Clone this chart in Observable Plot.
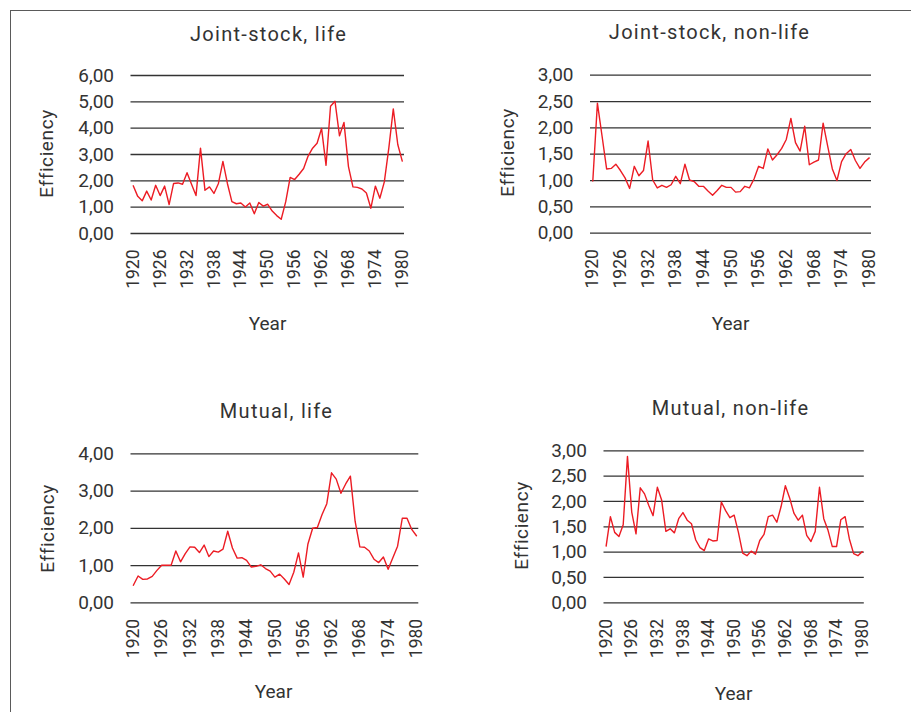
<!DOCTYPE html>
<html><head><meta charset="utf-8">
<script src="https://cdn.jsdelivr.net/npm/d3@7"></script>
<script src="https://cdn.jsdelivr.net/npm/@observablehq/plot@0.6"></script>
<style>
body{margin:0;background:#fff;}
#wrap{position:relative;width:911px;height:712px;overflow:hidden;font-family:Roboto,sans-serif;background:#fff;}
#frame{position:absolute;left:10px;top:10px;width:1000px;height:800px;border-top:1.5px solid #5a5a5a;border-left:1.5px solid #5a5a5a;pointer-events:none;}
.panel{position:absolute;}
</style></head><body><div id="wrap"></div>
<script>
const years = d3.range(1920, 1981);
const yearTicks = [1920, 1926, 1932, 1938, 1944, 1950, 1956, 1962, 1968, 1974, 1980];
const titles = ["Joint-stock, life", "Joint-stock, non-life", "Mutual, life", "Mutual, non-life"];
const jointLife = [1.81,1.41,1.24,1.61,1.27,1.83,1.44,1.80,1.10,1.90,
1.92,1.87,2.31,1.87,1.44,3.24,1.64,1.77,1.52,1.90,
2.74,1.90,1.21,1.13,1.16,1.01,1.16,0.75,1.18,1.04,
1.11,0.85,0.68,0.54,1.20,2.13,2.05,2.25,2.47,2.94,
3.24,3.43,3.99,2.59,4.83,5.02,3.71,4.22,2.54,1.77,
1.75,1.69,1.54,0.96,1.80,1.34,1.96,3.24,4.73,3.38,
2.75];
const jointNonLife = [0.99,2.47,1.85,1.22,1.23,1.31,1.19,1.05,0.85,1.27,
1.09,1.19,1.75,1.01,0.86,0.91,0.87,0.92,1.08,0.94,
1.31,1.01,0.98,0.89,0.89,0.80,0.72,0.81,0.91,0.87,
0.87,0.78,0.79,0.89,0.86,1.03,1.27,1.23,1.60,1.39,
1.49,1.61,1.78,2.18,1.72,1.56,2.03,1.30,1.35,1.39,
2.09,1.65,1.22,1.00,1.36,1.51,1.59,1.38,1.23,1.35,
1.43];
const mutualLife = [0.47,0.72,0.63,0.64,0.71,0.87,1.01,1.01,1.01,1.39,
1.10,1.32,1.50,1.49,1.35,1.55,1.24,1.39,1.36,1.44,
1.92,1.47,1.20,1.21,1.14,0.96,0.98,1.02,0.92,0.85,
0.69,0.77,0.64,0.49,0.82,1.34,0.69,1.58,2.00,2.02,
2.37,2.66,3.49,3.32,2.94,3.19,3.40,2.19,1.50,1.49,
1.39,1.17,1.08,1.23,0.90,1.21,1.52,2.27,2.27,1.97,
1.80];
const mutualNonLife = [1.12,1.70,1.39,1.31,1.54,2.89,1.79,1.36,2.27,2.15,
1.92,1.72,2.28,2.03,1.41,1.46,1.38,1.66,1.78,1.63,
1.56,1.24,1.09,1.03,1.26,1.22,1.23,1.99,1.82,1.68,
1.73,1.39,0.98,0.93,1.02,0.96,1.23,1.35,1.70,1.73,
1.59,1.90,2.31,2.07,1.77,1.63,1.73,1.33,1.21,1.41,
2.28,1.66,1.43,1.11,1.11,1.64,1.70,1.26,0.97,0.93,
1.01];
const yTicks1 = [0, 1, 2, 3, 4, 5, 6];
const yTicks2 = [0, 0.5, 1, 1.5, 2, 2.5, 3];
const yTicks3 = [0, 1, 2, 3, 4];
const yTicks4 = [0, 0.5, 1, 1.5, 2, 2.5, 3];

const fmt = d => d.toFixed(2).replace(".", ",");
const wrap = document.getElementById("wrap");

const panels = [
  {title: titles[0], values: jointLife, ticks: yTicks1, left: 0, top: 0, w: 455, h: 356,
   fx0: 130.5, fx1: 404, fy0: 233, fy1: 75, tx: 268, ty: 34, ex: 46, ey: 153, yx: 267, yy: 323},
  {title: titles[1], values: jointNonLife, ticks: yTicks2, left: 455, top: 0, w: 456, h: 356,
   fx0: 590, fx1: 871, fy0: 232.7, fy1: 74.7, tx: 709, ty: 32, ex: 507, ey: 152, yx: 730, yy: 323},
  {title: titles[2], values: mutualLife, ticks: yTicks3, left: 0, top: 356, w: 455, h: 356,
   fx0: 130.5, fx1: 418.3, fy0: 602.3, fy1: 453.3, tx: 276, ty: 411, ex: 47, ey: 528, yx: 273, yy: 691},
  {title: titles[3], values: mutualNonLife, ticks: yTicks4, left: 455, top: 356, w: 456, h: 356,
   fx0: 603.5, fx1: 863.8, fy0: 602.3, fy1: 450.3, tx: 730, ty: 408, ex: 521, ey: 525, yx: 733, yy: 693}
];

for (const p of panels) {
  const ml = p.fx0 - p.left, mr = p.left + p.w - p.fx1;
  const mt = p.fy1 - p.top, mb = p.top + p.h - p.fy0;
  const data = years.map((y, i) => ({year: y, value: p.values[i]}));
  const yMax = p.ticks[p.ticks.length - 1];
  const chart = Plot.plot({
    width: p.w, height: p.h,
    marginLeft: ml, marginRight: mr, marginTop: mt, marginBottom: mb,
    style: {fontFamily: "Roboto, sans-serif", fontSize: "18px", color: "#333", background: "transparent", overflow: "visible"},
    x: {type: "linear", domain: [1919.5, 1980.5]},
    y: {domain: [0, yMax]},
    marks: [
      Plot.ruleY(p.ticks, {stroke: "#333", strokeWidth: 1.3}),
      Plot.line(data, {x: "year", y: "value", stroke: "#ec1c24", strokeWidth: 1.4}),
      Plot.axisX(yearTicks, {tickRotate: -90, tickSize: 0, tickPadding: 16, tickFormat: d => String(d), label: null, fontSize: 17.5}),
      Plot.axisY(p.ticks, {tickSize: 0, tickPadding: 17, tickFormat: fmt, label: null, fontSize: 19}),
      Plot.text([p.title], {frameAnchor: "top-left", dx: p.tx - p.fx0, dy: p.ty - p.fy1, textAnchor: "middle", lineAnchor: "middle", fontSize: 20}),
      Plot.text(["Efficiency"], {frameAnchor: "top-left", dx: p.ex - p.fx0, dy: p.ey - p.fy1, rotate: -90, textAnchor: "middle", lineAnchor: "middle", fontSize: 19}),
      Plot.text(["Year"], {frameAnchor: "top-left", dx: p.yx - p.fx0, dy: p.yy - p.fy1, textAnchor: "middle", lineAnchor: "middle", fontSize: 19})
    ]
  });
  chart.querySelectorAll("text").forEach(t => {
    if (t.textContent === p.title) t.style.letterSpacing = "1.3px";
    if (t.textContent === "Efficiency") t.style.letterSpacing = "0.6px";
  });
  chart.classList.add("panel");
  chart.style.left = p.left + "px";
  chart.style.top = p.top + "px";
  wrap.appendChild(chart);
}
const frame = document.createElement("div");
frame.id = "frame";
wrap.appendChild(frame);
</script>
</body></html>
